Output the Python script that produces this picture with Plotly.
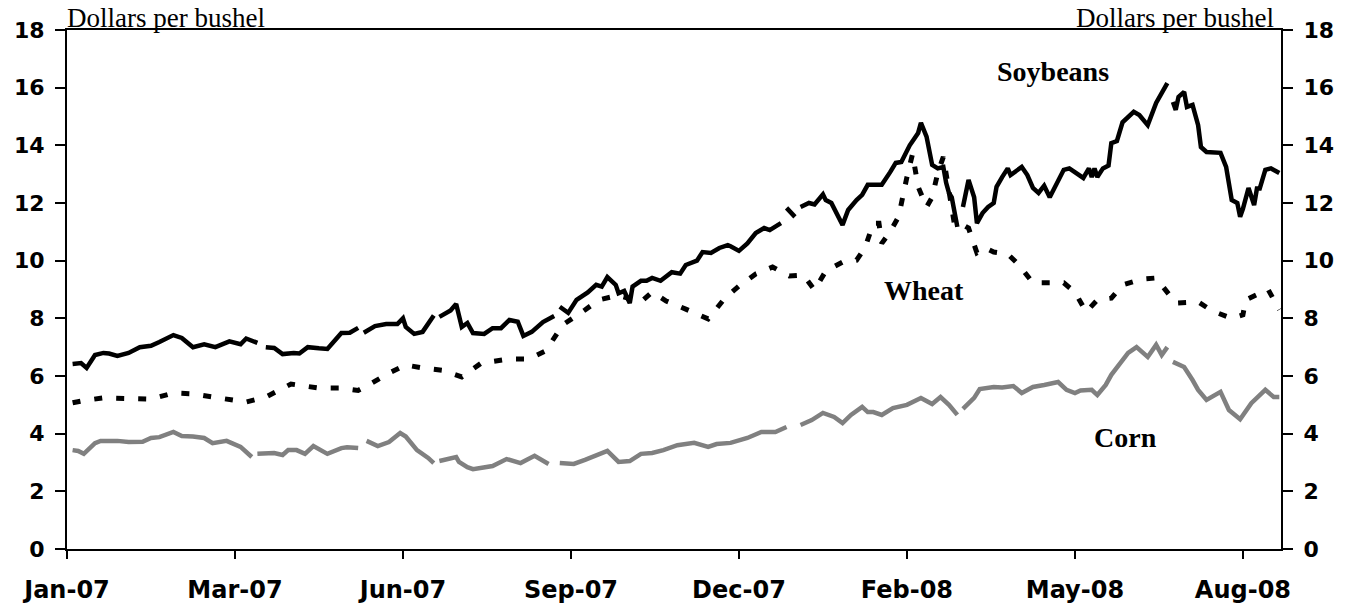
import plotly.graph_objects as go

# ---- x axis: trading-day index, labelled every 60 days ----
tick_days = [0, 60, 120, 180, 240, 300, 360, 420]
tick_labels = ["Jan-07", "Mar-07", "Jun-07", "Sep-07", "Dec-07", "Feb-08", "May-08", "Aug-08"]
last_day = 433.6

# ---- Soybeans (dollars per bushel) ----
soy_day = [2, 5, 7, 10, 13, 15, 18, 22, 26, 30, 33, 38, 41, 45, 49, 53, 58, 62, 64, 68,
           71, 74, 77, 81, 83, 86, 90, 93, 98, 101, 104,
           106, 110, 114, 118, 120, 121, 124, 127, 131,
           133, 137, 139, 141, 143, 145, 149, 152, 155, 158, 161, 163, 166, 170, 174,
           176, 179, 182, 186, 189, 191, 193, 196, 197, 199, 201, 202, 205, 207, 209, 212, 216, 219,
           221, 225, 227, 230, 233, 236, 237, 240, 243, 246, 249, 251, 255,
           257, 260,
           262, 265, 267, 270, 271, 273, 277, 279, 282, 284, 286, 289, 291, 294, 296, 298, 300, 301,
           304, 305, 307, 308, 309, 311, 313, 314, 315, 316, 317, 318,
           320, 322, 324, 325, 327, 329, 331, 332, 334, 336, 337, 339, 341, 343, 345, 347, 349, 351,
           354, 356, 358, 361, 363, 365, 366, 367, 368, 370, 372, 373, 375, 377, 379, 381, 383, 386,
           389, 391, 393,
           395, 396, 397, 399, 400, 402, 404, 405, 407, 410, 412, 414, 416, 418, 419, 420, 422, 424,
           425, 426, 428, 430, 432, 433]
soy_price = [6.42, 6.45, 6.28, 6.73, 6.8, 6.78, 6.7, 6.8, 7.0, 7.05, 7.18, 7.42, 7.32, 7.0, 7.1, 7.0, 7.2, 7.1, 7.3, 7.15,
             7.0, 6.97, 6.76, 6.8, 6.78, 7.0, 6.96, 6.94, 7.49, 7.5, 7.67,
             7.5, 7.73, 7.8, 7.8, 8.0, 7.7, 7.46, 7.53, 8.1,
             8.05, 8.27, 8.5, 7.7, 7.84, 7.49, 7.46, 7.66, 7.66, 7.94, 7.88, 7.39, 7.53, 7.87, 8.08,
             8.4, 8.19, 8.64, 8.9, 9.16, 9.1, 9.43, 9.16, 8.87, 8.95, 8.53, 9.1, 9.3, 9.3, 9.4, 9.3, 9.6, 9.55,
             9.85, 10.0, 10.3, 10.27, 10.44, 10.54, 10.5, 10.34, 10.6, 10.96, 11.13, 11.06, 11.3,
             11.83, 11.52,
             11.86, 12.0, 11.95, 12.3, 12.1, 12.0, 11.24, 11.76, 12.1, 12.28, 12.63, 12.63, 12.63, 13.07, 13.39, 13.42, 13.77, 14.0,
             14.43, 14.78, 14.3, 13.84, 13.32, 13.2, 13.25, 12.7, 12.35, 12.2, 11.65, 11.17,
             11.86, 12.8, 12.2, 11.3, 11.65, 11.86, 12.0, 12.56, 12.9, 13.2, 12.97, 13.1, 13.25, 12.97, 12.52, 12.35, 12.6, 12.2,
             12.8, 13.15, 13.2, 13.0, 12.87, 13.2, 12.9, 13.2, 12.9, 13.2, 13.3, 14.08, 14.15, 14.8, 14.98, 15.16, 15.05, 14.7,
             15.47, 15.82, 16.16,
             15.5, 15.23, 15.68, 15.85, 15.33, 15.4, 14.7, 13.94, 13.77, 13.74, 13.74, 13.25, 12.1, 12.0, 11.52, 11.8, 12.52, 11.93,
             12.5, 12.5, 13.15, 13.2, 13.1, 13.04]
soy_gaps = [69, 105, 132, 175, 256, 261, 319, 394]

# ---- Wheat ----
wheat_day = [2, 6, 13, 21, 30, 38, 45, 54, 64, 71, 80, 90, 98, 104, 107, 115, 121, 127, 134, 141,
             148, 158, 165, 171, 177, 185, 190, 197, 205, 209, 214, 221, 229, 235, 240, 246, 252, 258, 263, 267,
             271, 277, 282, 285, 288, 290, 291, 294, 297, 300, 302, 304, 307, 309, 311, 313, 315, 317, 320, 322,
             325, 328, 331, 336, 340, 345, 350, 356, 360, 364, 368, 373, 377, 384, 389, 392, 396, 404, 409, 416,
             420, 421, 425, 429, 433]
wheat_price = [5.07, 5.15, 5.24, 5.24, 5.2, 5.41, 5.38, 5.24, 5.1, 5.27, 5.72, 5.58, 5.58, 5.5, 5.65, 6.1, 6.38, 6.28, 6.2, 5.97,
               6.45, 6.59, 6.59, 6.87, 7.77, 8.29, 8.64, 8.8, 8.57, 8.91, 8.6, 8.32, 7.98, 8.7, 9.12, 9.54, 9.78, 9.47, 9.5, 8.98,
               9.64, 9.95, 10.02, 10.44, 11.3, 11.3, 10.6, 11.0, 11.52, 12.9, 13.7, 12.56, 11.86, 12.2, 13.04, 13.6, 12.45, 11.24, 11.24, 11.13,
               10.27, 10.44, 10.3, 10.23, 9.85, 9.23, 9.23, 9.23, 8.91, 8.22, 8.64, 8.7, 9.16, 9.36, 9.4, 9.05, 8.53, 8.57, 8.26, 8.0,
               8.12, 8.64, 8.8, 9.0, 8.3]

# ---- Corn ----
corn_day = [2, 4, 6, 10, 12, 18, 22, 27, 30, 33, 38, 41, 45, 49, 52, 57, 62, 66,
            68, 71, 74, 77, 79, 82, 85, 88, 93, 98, 100, 104,
            107, 111, 115, 119, 121, 125, 129, 131,
            133, 139, 140, 143, 145, 152, 157, 162, 167, 172,
            176, 181, 185, 189, 193, 197, 201, 205, 209, 213, 218, 224, 229, 232, 237, 243, 248, 253, 257,
            262, 266, 270, 274, 277, 280, 284, 286, 288, 291, 295, 300, 305, 309, 312, 315, 318,
            320, 324, 326, 331, 334, 338, 341, 345, 349, 354, 357, 360, 362, 366, 368, 371, 373, 377,
            379, 382, 386, 389, 391, 393,
            395, 399, 402, 404, 407, 412, 415, 419, 423, 428, 431, 433]
corn_price = [3.43, 3.4, 3.3, 3.67, 3.75, 3.75, 3.71, 3.72, 3.85, 3.88, 4.06, 3.92, 3.9, 3.85, 3.67, 3.75, 3.54, 3.19,
              3.3, 3.33, 3.33, 3.26, 3.43, 3.43, 3.3, 3.57, 3.3, 3.5, 3.53, 3.5,
              3.75, 3.57, 3.71, 4.02, 3.9, 3.43, 3.16, 2.98,
              3.05, 3.19, 3.02, 2.84, 2.77, 2.88, 3.12, 2.98, 3.23, 2.95,
              2.98, 2.95, 3.09, 3.26, 3.4, 3.02, 3.05, 3.3, 3.33, 3.43, 3.6, 3.68, 3.54, 3.64, 3.68, 3.85, 4.06, 4.06, 4.23,
              4.3, 4.47, 4.72, 4.58, 4.37, 4.65, 4.93, 4.75, 4.75, 4.65, 4.89, 5.0, 5.24, 5.03, 5.27, 5.0, 4.65,
              4.86, 5.24, 5.55, 5.62, 5.6, 5.65, 5.41, 5.62, 5.69, 5.79, 5.52, 5.41, 5.5, 5.52, 5.34, 5.69, 6.04, 6.56,
              6.8, 7.0, 6.66, 7.08, 6.73, 7.0,
              6.49, 6.31, 5.86, 5.52, 5.17, 5.45, 4.82, 4.5, 5.06, 5.52, 5.27, 5.27]
corn_gaps = [67, 105, 132, 174, 259, 319, 394]

assert len(soy_day) == len(soy_price)
assert len(wheat_day) == len(wheat_price)
assert len(corn_day) == len(corn_price)


def with_gaps(days, vals, gaps):
    pts = sorted(list(zip(days, vals)) + [(g, None) for g in gaps], key=lambda p: p[0])
    return [p[0] for p in pts], [p[1] for p in pts]


sx, sy = with_gaps(soy_day, soy_price, soy_gaps)
cx, cy = with_gaps(corn_day, corn_price, corn_gaps)

fig = go.Figure()
fig.add_trace(go.Scatter(x=sx, y=sy, mode="lines", name="Soybeans",
                         line=dict(color="black", width=4.5), connectgaps=False))
fig.add_trace(go.Scatter(x=wheat_day, y=wheat_price, mode="lines", name="Wheat",
                         line=dict(color="black", width=5, dash="8px,14px")))
fig.add_trace(go.Scatter(x=cx, y=cy, mode="lines", name="Corn",
                         line=dict(color="#808080", width=4.5), connectgaps=False))
# invisible trace to bring up the right-hand axis
fig.add_trace(go.Scatter(x=[0], y=[0], yaxis="y2", mode="markers",
                         marker=dict(opacity=0), hoverinfo="skip", showlegend=False))

sans = "DejaVu Sans, Verdana, sans-serif"
yax = dict(range=[0, 18], dtick=2, tick0=0, ticks="outside", ticklen=10, tickwidth=1.5,
           tickcolor="black", showline=True, linewidth=2, linecolor="black",
           showgrid=False, zeroline=False, automargin=False, ticklabelstandoff=6,
           tickfont=dict(family=sans, size=22, color="black", weight="bold"), fixedrange=True)

fig.update_layout(
    width=1357, height=607,
    margin=dict(l=67, r=76, t=30, b=58),
    paper_bgcolor="white", plot_bgcolor="white",
    showlegend=False,
    xaxis=dict(range=[0, last_day], tickmode="array", tickvals=tick_days, ticktext=tick_labels,
               ticks="outside", ticklen=8, tickwidth=1.5, tickcolor="black",
               showline=True, linewidth=2, linecolor="black", mirror=True,
               showgrid=False, zeroline=False, ticklabelstandoff=10, automargin=False,
               tickfont=dict(family=sans, size=24, color="black", weight="bold")),
    yaxis=yax,
    yaxis2=dict(yax, overlaying="y", side="right"),
)

serif = "Liberation Serif, Times New Roman, serif"
fig.add_annotation(xref="paper", yref="paper", x=0, y=1, xanchor="left", yanchor="middle",
                   yshift=12, xshift=-2, text="Dollars per bushel", showarrow=False,
                   font=dict(family=serif, size=27, color="black"))
fig.add_annotation(xref="paper", yref="paper", x=0.996, y=1, xanchor="right", yanchor="middle",
                   yshift=12, text="Dollars per bushel", showarrow=False,
                   font=dict(family=serif, size=27, color="black"))
fig.add_annotation(x=352, y=16.55, text="Soybeans", showarrow=False,
                   font=dict(family=serif, size=28, color="black", weight="bold"))
fig.add_annotation(x=306, y=8.95, text="Wheat", showarrow=False,
                   font=dict(family=serif, size=28, color="black", weight="bold"))
fig.add_annotation(x=378, y=3.88, text="Corn", showarrow=False,
                   font=dict(family=serif, size=28, color="black", weight="bold"))

# remove the page's default body margin so the figure starts at the window corner
fig.write_html("out.html", config={"displayModeBar": False},
               post_script="document.body.style.margin='0';")
